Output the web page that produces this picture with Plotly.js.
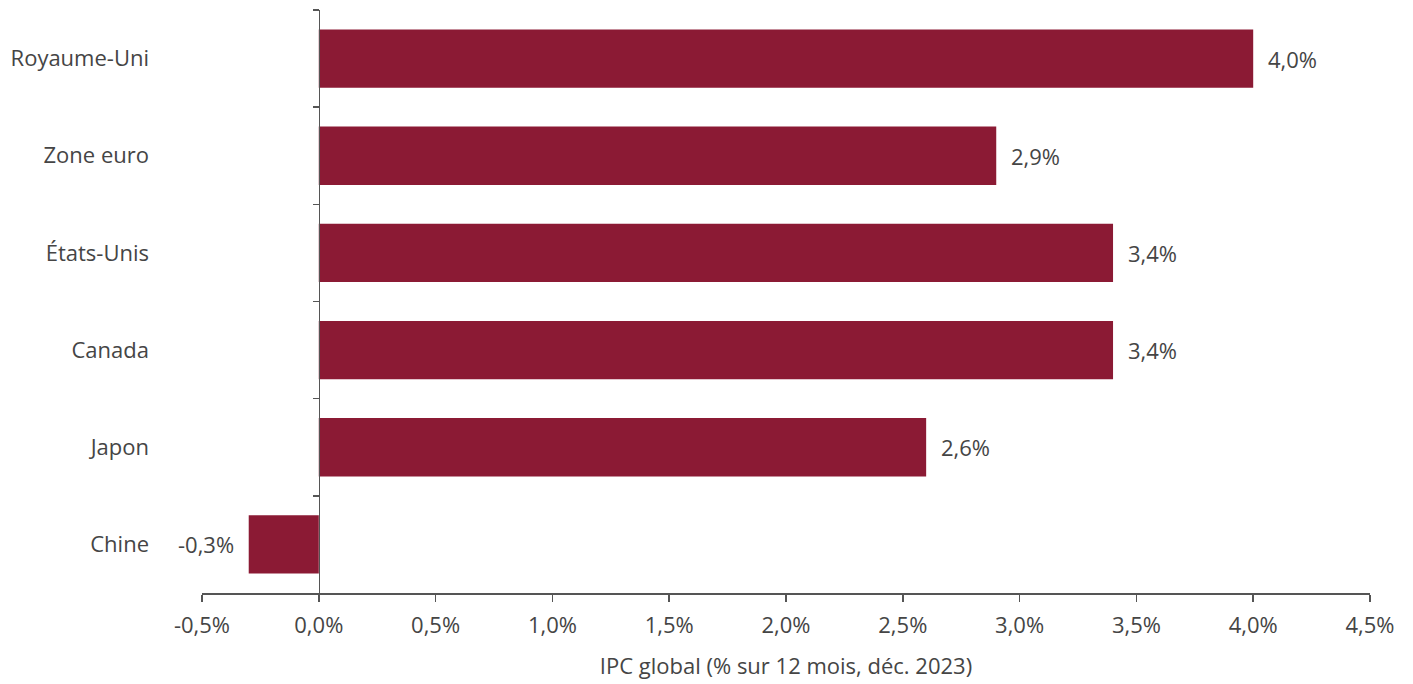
<!DOCTYPE html>
<html>
<head>
<meta charset="utf-8">
<script src="https://cdn.plot.ly/plotly-3.0.1.min.js"></script>
<style>html,body{margin:0;padding:0;background:#fff;}</style>
</head>
<body>
<div id="chart" style="width:1413px;height:684px;"></div>
<script>
const categories = ["Royaume-Uni", "Zone euro", "États-Unis", "Canada", "Japon", "Chine"];
const values = [4.0, 2.9, 3.4, 3.4, 2.6, -0.3];
const valueLabels = ["4,0%", "2,9%", "3,4%", "3,4%", "2,6%", "-0,3%"];
const xTickVals = [-0.5, 0, 0.5, 1, 1.5, 2, 2.5, 3, 3.5, 4, 4.5];
const xTickText = ["-0,5%", "0,0%", "0,5%", "1,0%", "1,5%", "2,0%", "2,5%", "3,0%", "3,5%", "4,0%", "4,5%"];
const xTitle = "IPC global (% sur 12 mois, déc. 2023)";

const FONT = "Open Sans, sans-serif";
const TXT = "#454545";
const LINE = "#555555";
const FS = 22;
const FW = 400;

const traces = [
  {
    type: "bar", orientation: "h",
    x: values, y: categories,
    marker: {color: "#8B1A34"},
    width: 0.6,
    hoverinfo: "skip",
    xaxis: "x", yaxis: "y"
  },
  {
    type: "scatter", mode: "markers",
    x: values.map(() => 0), y: categories,
    marker: {opacity: 0},
    hoverinfo: "skip", showlegend: false,
    xaxis: "x", yaxis: "y2"
  }
];

const annotations = values.map((v, i) => ({
  x: v, y: categories[i], xref: "x", yref: "y",
  text: valueLabels[i], showarrow: false,
  xanchor: v >= 0 ? "left" : "right",
  xshift: v >= 0 ? 13 : -13,
  font: {family: FONT, size: FS, color: TXT, weight: FW}
}));

const layout = {
  width: 1413, height: 684,
  margin: {l: 202, r: 43, t: 10, b: 91},
  paper_bgcolor: "#fff", plot_bgcolor: "#fff",
  showlegend: false,
  font: {family: FONT, color: TXT, size: FS, weight: FW},
  xaxis: {
    range: [-0.5, 4.5],
    tickvals: xTickVals, ticktext: xTickText,
    showgrid: false, zeroline: false,
    showline: true, linecolor: LINE, linewidth: 1.5,
    ticks: "outside", ticklen: 7, tickcolor: LINE, tickwidth: 1.5,
    ticklabelstandoff: 5,
    tickfont: {family: FONT, size: FS, color: TXT, weight: FW},
    title: {text: xTitle, font: {family: FONT, size: FS, color: TXT, weight: FW}, standoff: 20}
  },
  yaxis: {
    type: "category", autorange: "reversed",
    showgrid: false, zeroline: false, showline: false,
    ticks: "", ticklabelstandoff: 52,
    tickfont: {family: FONT, size: FS, color: TXT, weight: FW}
  },
  yaxis2: {
    type: "category", overlaying: "y", matches: "y",
    anchor: "free", position: 0.1, side: "left",
    showgrid: false, zeroline: false,
    showline: true, linecolor: LINE, linewidth: 1.5,
    ticks: "outside", ticklen: 6, tickcolor: LINE, tickwidth: 1.5,
    tickson: "boundaries", showticklabels: false
  },
  annotations: annotations
};

Plotly.newPlot("chart", traces, layout, {displayModeBar: false, staticPlot: true});
</script>
</body>
</html>
